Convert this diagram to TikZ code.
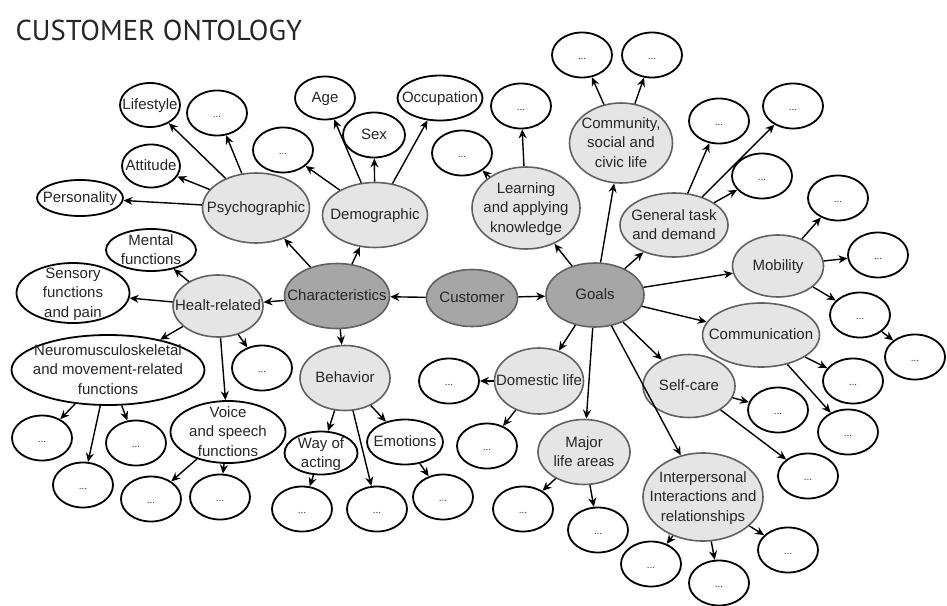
\documentclass[tikz,border=0pt]{standalone}
\usepackage{fontspec}
\setmainfont{Liberation Sans}
\newfontfamily\titlefont{PT Sans}
\usetikzlibrary{shapes.geometric,arrows.meta}
% texto centrado que no agranda la elipse
\newcommand\lbl[1]{\smash{\makebox[0pt]{\raisebox{-.3em}{\begin{tabular}{@{}c@{}}#1\end{tabular}}}}}
\newcommand\etc{\lbl{\fontsize{10}{11}\selectfont ...}}
\tikzset{
  bubble/.style={ellipse, inner sep=0pt, text=black!85,
    font=\fontsize{15}{19.5}\selectfont},
  leaf/.style={bubble, draw=black, line width=1.8pt, fill=white,
    minimum width=60pt, minimum height=45pt},
  topic/.style={bubble, draw=black!62, line width=1.6pt, fill=black!10},
  core/.style={bubble, draw=black!62, line width=1.6pt, fill=black!35},
  sz/.style 2 args={minimum width=#1pt, minimum height=#2pt},
  arr/.style={-{Stealth[length=9pt,width=8pt]}, line width=1.4pt},
}
\begin{document}
\begin{tikzpicture}[x=1pt, y=-1pt]
    \useasboundingbox (0,0) rectangle (947,605);
    \node[anchor=base west, text=black!85,
        font=\titlefont\fontsize{28.7}{30}\selectfont] (title) at (12,40)
        {CUSTOMER ONTOLOGY};

    % Nodos centrales.
    \node[core, sz={91}{57}] (customer) at (472,298) {\lbl{Customer}};
    \node[core, sz={105}{65}] (charac) at (337,296) {\lbl{Characteristics}};
    \node[core, sz={98}{64}] (goals) at (595,295) {\lbl{Goals}};

    % Rama de las características.
    \node[topic, sz={107}{70}] (psycho) at (256,208) {\lbl{Psychographic}};
    \node[topic, sz={105}{65}] (demo) at (375,215) {\lbl{Demographic}};
    \node[topic, sz={90}{62}] (health) at (218,306) {\lbl{Healt-related}};
    \node[topic, sz={90}{65}] (behav) at (345,378) {\lbl{Behavior}};

    \node[leaf, sz={60}{44}] (lifestyle) at (150,105) {\lbl{Lifestyle}};
    \node[leaf] (psychoA) at (217,113) {\etc};
    \node[leaf, sz={58}{43}] (attitude) at (151,166) {\lbl{Attitude}};
    \node[leaf, sz={86}{36}] (personal) at (80,198) {\lbl{Personality}};
    \node[leaf] (demoA) at (283,150) {\etc};
    \node[leaf, sz={60}{43}] (age) at (325,98) {\lbl{Age}};
    \node[leaf, sz={62}{45}] (sex) at (374,135) {\lbl{Sex}};
    \node[leaf, sz={85}{45}] (occup) at (440,98) {\lbl{Occupation}};
    \node[leaf, sz={90}{42}] (mental) at (151,250) {\lbl{Mental\\functions}};
    \node[leaf, sz={113}{60}] (sensory) at (73,293)
        {\lbl{Sensory\\functions\\and pain}};
    \node[leaf, sz={193}{70}] (neuro) at (108,370)
        {\lbl{Neuromusculoskeletal\\and movement-related\\functions}};
    \node[leaf, sz={115}{62}] (voice) at (228,432)
        {\lbl{Voice\\and speech\\functions}};
    \node[leaf] (healthA) at (262,368) {\etc};
    \node[leaf] (neuroA) at (42,438) {\etc};
    \node[leaf] (neuroB) at (83,485) {\etc};
    \node[leaf] (neuroC) at (136,443) {\etc};
    \node[leaf] (voiceA) at (151,499) {\etc};
    \node[leaf] (voiceB) at (220,497) {\etc};
    \node[leaf, sz={73}{43}] (wayact) at (321,453) {\lbl{Way of\\acting}};
    \node[leaf, sz={76}{45}] (emotion) at (405,442) {\lbl{Emotions}};
    \node[leaf] (behavA) at (377,509) {\etc};
    \node[leaf] (wayactA) at (302,509) {\etc};
    \node[leaf] (emotionA) at (443,497) {\etc};

    % Rama de los objetivos.
    \node[topic, sz={108}{82}] (learn) at (526,208)
        {\lbl{Learning\\and applying\\knowledge}};
    \node[topic, sz={103}{80}] (civic) at (621,143)
        {\lbl{Community,\\social and\\civic life}};
    \node[topic, sz={108}{64}] (gentask) at (674,225)
        {\lbl{General task\\and demand}};
    \node[topic, sz={91}{62}] (mobil) at (778,266) {\lbl{Mobility}};
    \node[topic, sz={117}{64}] (comm) at (761,335) {\lbl{Communication}};
    \node[topic, sz={92}{63}] (selfc) at (689,386) {\lbl{Self-care}};
    \node[topic, sz={120}{88}] (inter) at (703,497)
        {\lbl{Interpersonal\\Interactions and\\relationships}};
    \node[topic, sz={92}{65}] (major) at (584,452) {\lbl{Major\\life areas}};
    \node[topic, sz={89}{66}] (domest) at (539,381) {\lbl{Domestic life}};

    \node[leaf] (learnA) at (462,153) {\etc};
    \node[leaf] (learnB) at (521,106) {\etc};
    \node[leaf] (civicA) at (582,55) {\etc};
    \node[leaf] (civicB) at (652,55) {\etc};
    \node[leaf] (gentaskA) at (719,121) {\etc};
    \node[leaf] (gentaskB) at (793,106) {\etc};
    \node[leaf] (gentaskC) at (762,176) {\etc};
    \node[leaf] (mobilA) at (838,198) {\etc};
    \node[leaf] (mobilB) at (878,255) {\etc};
    \node[leaf] (mobilC) at (860,315) {\etc};
    \node[leaf] (mobilD) at (915,357) {\etc};
    \node[leaf] (commA) at (853,381) {\etc};
    \node[leaf] (commB) at (848,432) {\etc};
    \node[leaf] (selfcA) at (778,410) {\etc};
    \node[leaf] (selfcB) at (808,476) {\etc};
    \node[leaf] (interA) at (651,564) {\etc};
    \node[leaf] (interB) at (719,583) {\etc};
    \node[leaf] (interC) at (788,550) {\etc};
    \node[leaf] (majorA) at (523,509) {\etc};
    \node[leaf] (majorB) at (598,530) {\etc};
    \node[leaf] (domestA) at (449,381) {\etc};
    \node[leaf] (domestB) at (487,446) {\etc};

    % Flechas.
    \foreach \a/\b in {customer/charac, customer/goals,
        charac/psycho, charac/demo, charac/health, charac/behav,
        psycho/lifestyle, psycho/psychoA, psycho/attitude, psycho/personal,
        demo/demoA, demo/age, demo/sex, demo/occup,
        health/mental, health/sensory, health/neuro, health/voice,
        health/healthA, neuro/neuroA, neuro/neuroB, neuro/neuroC,
        voice/voiceA, voice/voiceB, behav/wayact, behav/emotion,
        behav/behavA, wayact/wayactA, emotion/emotionA,
        goals/learn, goals/civic, goals/gentask, goals/mobil, goals/comm,
        goals/selfc, goals/inter, goals/major, goals/domest,
        learn/learnA, learn/learnB, civic/civicA, civic/civicB,
        gentask/gentaskA, gentask/gentaskB, gentask/gentaskC,
        mobil/mobilA, mobil/mobilB, mobil/mobilC, mobilC/mobilD,
        comm/commA, comm/commB, selfc/selfcA, selfc/selfcB,
        inter/interA, inter/interB, inter/interC,
        major/majorA, major/majorB, domest/domestA, domest/domestB}
        \draw[arr] (\a) -- (\b);
\end{tikzpicture}
\end{document}
